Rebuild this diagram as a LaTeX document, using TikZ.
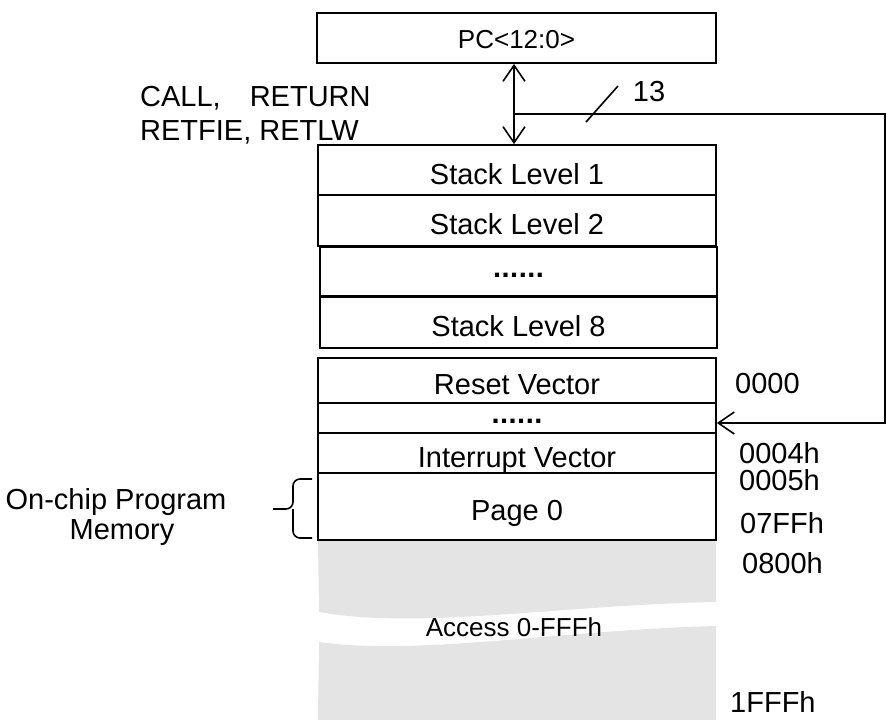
\documentclass[tikz,border=0pt]{standalone}
\usepackage{fontspec}
\setmainfont{Liberation Sans}
\usetikzlibrary{arrows.meta,calc}
\definecolor{memgray}{HTML}{E4E4E4}
\begin{document}
\begin{tikzpicture}[x=1pt,y=-1pt,
  big/.style={font=\fontsize{29}{35}\selectfont},
  box/.style={draw,line width=1.8pt,inner sep=0pt,text height=28pt,text depth=0pt,big},
  dotbox/.style={box,text height=11pt,text depth=0pt,font=\fontsize{29}{35}\selectfont\bfseries},
  txt/.style={inner sep=0pt,big},
  wire/.style={line width=1.6pt},
  barb/.tip={Straight Barb[length=16pt,width=22pt,line width=1.6pt]}]
\useasboundingbox (0,0) rectangle (886,720);

% grey address space with break
\fill[memgray] (318,540) -- (716,540) -- (716,602) .. controls (560,605) and (420,630) .. (319,612) -- cycle;
\fill[memgray] (319,642) .. controls (420,656) and (560,630) .. (716,626) -- (716,720) -- (318,720) -- cycle;

% PC
\node[box,minimum width=399pt,minimum height=50pt,font=\fontsize{26}{31}\selectfont,text height=21pt] (pc) at (516.5,38) {PC<12:0>};

% stack
\node[box,minimum width=398pt,minimum height=50pt] (s1) at (517,170) {Stack Level 1};
\node[box,minimum width=398pt,minimum height=51pt] (s2) at (517,220.5) {Stack Level 2};
\node[dotbox,minimum width=397pt,minimum height=49pt] (sd) at (518.5,271.5) {.\kern0.5pt.\kern0.5pt.\kern0.5pt.\kern0.5pt.\kern0.5pt.};
\node[box,minimum width=397pt,minimum height=51pt] (s8) at (518.5,322.5) {Stack Level 8};

% program memory
\node[box,minimum width=398pt,minimum height=45pt] (rv) at (517,380.5) {Reset Vector};
\node[dotbox,minimum width=398pt,minimum height=30pt,text height=10pt] (md) at (517,418) {.\kern0.5pt.\kern0.5pt.\kern0.5pt.\kern0.5pt.\kern0.5pt.};
\node[box,minimum width=398pt,minimum height=40pt] (iv) at (517,453) {Interrupt Vector};
\node[box,minimum width=398pt,minimum height=67pt] (p0) at (517,506.5) {Page 0};

% PC <-> stack
\coordinate (j) at (514,114);
\draw[wire,barb-barb] (pc.south -| j) -- (s1.north -| j);

% 13-bit bus to memory
\coordinate (c1) at (885,114);
\coordinate (c2) at (885,423);
\coordinate (tip) at (md.east |- c2);
\draw[wire,-barb] (j) -- (c1) -- (c2) -- (tip);
\coordinate (sl1) at (586,122);
\coordinate (sl2) at (618,86);
\draw[wire] (sl1) -- (sl2);
\node[txt,anchor=base] (bw) at (649,101.4) {13};

% instructions
\node[txt,anchor=base west] (ops1) at (140,106.4) {CALL,\hspace{29pt}RETURN};
\node[txt,anchor=base west] (ops2) at (140,140.4) {RETFIE, RETLW};

% on-chip label and brace
\node[txt,anchor=base] (mem1) at (116,509) {On-chip Program};
\node[txt,anchor=base] (mem2) at (122,539) {Memory};
\coordinate (b1) at (312,479);
\coordinate (b2) at (312,538);
\coordinate (bm) at (293,509);
\coordinate (bt) at (273,509);
\draw[wire,rounded corners=7pt] (b1) -| (bm) -- (bt);
\draw[wire,rounded corners=7pt] (b2) -| (bm);

% addresses
\node[txt,anchor=base west] (a0) at (735,393.4) {0000};
\node[txt,anchor=base west] (a4) at (739,463.4) {0004h};
\node[txt,anchor=base west] (a5) at (739,490.4) {0005h};
\node[txt,anchor=base west] (a7) at (740,533.4) {07FFh};
\node[txt,anchor=base west] (a8) at (742,573.4) {0800h};
\node[txt,anchor=base west] (a1f) at (730,712) {1FFFh};

% access label
\node[inner sep=0pt,anchor=base,font=\fontsize{26}{31}\selectfont] (acc) at (514,636.4) {Access 0-FFFh};
\end{tikzpicture}
\end{document}
